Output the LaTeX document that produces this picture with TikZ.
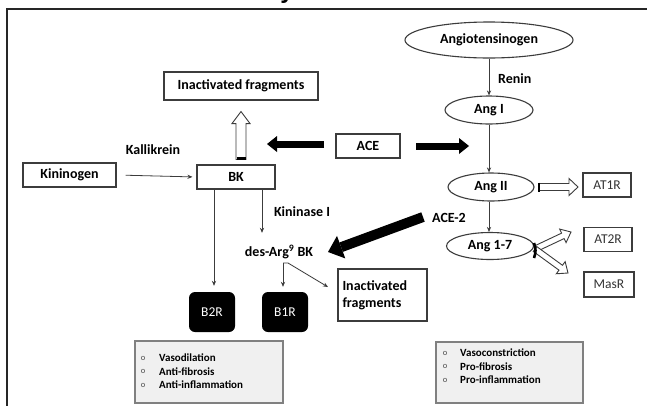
\documentclass[tikz,border=0pt]{standalone}
\usepackage{fontspec}
\setmainfont{Carlito}
\newfontfamily\titlefont{Liberation Sans}
\usetikzlibrary{arrows.meta,shapes.geometric,calc}
\definecolor{edge}{HTML}{3C3C3C}
\definecolor{panel}{HTML}{F0F0F0}
\definecolor{panelline}{HTML}{808080}
\begin{document}
\begin{tikzpicture}[x=1pt,y=-1pt,
  lbl/.style={font=\fontsize{14}{16}\selectfont\bfseries, inner sep=0pt},
  box/.style={draw=edge, line width=1.1pt, fill=white, inner sep=0pt, font=\fontsize{14}{16}\selectfont\bfseries},
  recbox/.style={draw=edge, line width=1.1pt, fill=white, inner sep=0pt, font=\fontsize{13.5}{15}\selectfont, text=black!80},
  oval/.style={ellipse, draw=edge, line width=1.1pt, fill=white, inner sep=0pt, font=\fontsize{14}{16}\selectfont\bfseries},
  rbox/.style={fill=black, rounded corners=6pt, text=white, inner sep=0pt, font=\fontsize{13.5}{15}\selectfont, minimum width=46pt, minimum height=40pt},
  panelbox/.style={draw=panelline, fill=panel, line width=1.2pt, inner sep=0pt},
  bul/.style={font=\fontsize{8.5}{9}\selectfont, text=black!70, inner sep=0pt},
  itm/.style={font=\fontsize{11}{12}\selectfont\bfseries, anchor=west, inner sep=0pt},
  thinarr/.style={draw=edge, line width=0.8pt, -{Stealth[length=5pt,width=4.2pt]}},
  fatarr/.style n args={3}{line width=#1, -{Triangle[length=#2,width=#3,line width=0pt]}},
  openarr/.style n args={3}{fill=white, draw=edge, line width=0.9pt, line join=miter, to path={
     let \p1=(\tikztostart), \p2=(\tikztotarget),
         \n1={atan2(\y2-\y1,\x2-\x1)},
         \n2={veclen(\x2-\x1,\y2-\y1)-#3}
     in ($(\p1)+(\n1+90:#1)$) -- ($(\p1)+(\n1:\n2)+(\n1+90:#1)$)
        -- ($(\p1)+(\n1:\n2)+(\n1+90:#2)$) -- (\p2)
        -- ($(\p1)+(\n1:\n2)+(\n1-90:#2)$) -- ($(\p1)+(\n1:\n2)+(\n1-90:#1)$)
        -- ($(\p1)+(\n1-90:#1)$) -- cycle}},
  bar/.style={line width=2.6pt, draw=black}
]
\useasboundingbox (0,0) rectangle (647,405);
\fill[white] (0,0) rectangle (647,405);
% cut-off title letter and frame
\node[font=\titlefont\fontsize{24}{26}\selectfont\bfseries, anchor=base, inner sep=0pt] (title) at (287,-2) {y};
\draw[line width=2.5pt, draw=black!85] (7,9) rectangle (720,460);

% renin-angiotensin side
\node[oval, minimum width=168pt, minimum height=36pt] (agt) at (489,40) {Angiotensinogen};
\node[oval, minimum width=88pt, minimum height=28pt] (ang1) at (489,110) {Ang I};
\node[oval, minimum width=86pt, minimum height=28pt] (ang2) at (491,187) {Ang II};
\node[oval, minimum width=87pt, minimum height=27pt] (ang17) at (490,246) {Ang 1-7};
\node[lbl, anchor=west] (renin) at (498,79) {Renin};
\node[lbl] (ace2) at (449,218) {ACE-2};

\node[recbox, minimum width=48pt, minimum height=24pt] (at1r) at (607,185) {AT1R};
\node[recbox, minimum width=48pt, minimum height=24pt] (at2r) at (608,239.5) {AT2R};
\node[recbox, minimum width=50pt, minimum height=25pt] (masr) at (609,284.5) {MasR};

% kinin side
\node[box, minimum width=154pt, minimum height=28pt] (inact1) at (241,86) {Inactivated fragments};
\node[box, minimum width=93pt, minimum height=24pt] (kng) at (69.5,175) {Kininogen};
\node[box, minimum width=78pt, minimum height=24pt] (bk) at (236,177) {BK};
\node[box, minimum width=64pt, minimum height=24pt] (ace) at (368,146) {ACE};
\node[lbl] (kal) at (153,150) {Kallikrein};
\node[lbl] (kin1) at (302,212) {Kininase I};
\node[lbl] (desarg) at (279,252) {des-Arg\textsuperscript{9} BK};
\node[box, minimum width=89pt, minimum height=52pt, align=left, text width=80pt, font=\fontsize{14}{17}\selectfont\bfseries] (inact2) at (382.5,295) {Inactivated\\fragments};

\node[rbox] (b2r) at (212,312) {B2R};
\node[rbox] (b1r) at (285,312) {B1R};

% effect panels
\node[panelbox, minimum width=148pt, minimum height=62pt] (panL) at (209,372) {};
\node[panelbox, minimum width=147pt, minimum height=61pt] (panR) at (509.5,372.5) {};
\node[bul] (bl1) at (143,358) {o};
\node[bul] (bl2) at (143,371.5) {o};
\node[bul] (bl3) at (143,385) {o};
\node[itm] (tl1) at (159,358) {Vasodilation};
\node[itm] (tl2) at (159,371.5) {Anti-fibrosis};
\node[itm] (tl3) at (159,385) {Anti-inflammation};
\node[bul] (br1) at (445,353) {o};
\node[bul] (br2) at (445,366.5) {o};
\node[bul] (br3) at (445,380) {o};
\node[itm] (tr1) at (460,353) {Vasoconstriction};
\node[itm] (tr2) at (460,366.5) {Pro-fibrosis};
\node[itm] (tr3) at (460,380) {Pro-inflammation};

% thin connectors
\draw[thinarr] (agt.south) -- (ang1.north);
\draw[thinarr] (ang1.south) -- (ang1.south |- ang2.north);
\draw[thinarr] (ang1.south |- ang2.south) -- (ang1.south |- ang17.north);
\draw[thinarr, shorten <=9pt, shorten >=4pt] (kng.east) -- (bk.west);
\draw[thinarr, shorten >=6pt] ([xshift=2pt]bk.south -| b2r.north) -- ([xshift=2pt]b2r.north);
\draw[thinarr] ([xshift=26pt]bk.south) -- ([xshift=26pt, yshift=12pt]bk.south |- desarg.north);
\coordinate (split) at (283,263);
\draw[thinarr, shorten >=5pt] (split) -- (split |- b1r.north);
\coordinate (inactend) at (328,287);
\draw[thinarr] (split) -- ++(5,0) -- (inactend);

% thick black arrows
\coordinate (aceL) at (324,144);
\coordinate (aceLtip) at (267,144);
\coordinate (aceR) at (416,146);
\coordinate (aceRtip) at (469,146);
\draw[fatarr={7pt}{10pt}{16pt}] (aceL) -- (aceLtip);
\draw[fatarr={7pt}{10pt}{16pt}] (aceR) -- (aceRtip);
\coordinate (ace2s) at (423,217);
\coordinate (ace2t) at (328,252);
\draw[fatarr={10pt}{14pt}{24pt}] (ace2s) -- (ace2t);

% open block arrows
\coordinate (upbase) at ([yshift=5pt]bk.north -| inact1.south);
\coordinate (uptip) at ([yshift=-11pt]inact1.south);
\draw[openarr={5pt}{9pt}{12pt}] (upbase) to (uptip);
\draw[bar] ([xshift=-4.5pt,yshift=1pt]upbase) -- ([xshift=4.5pt,yshift=1pt]upbase);

\coordinate (a2base) at (539,187);
\coordinate (a2tip) at (578,187);
\draw[openarr={3.5pt}{8.5pt}{9pt}] (a2base) to (a2tip);
\draw[bar] ([yshift=4.5pt]a2base) -- ([yshift=-4.5pt]a2base);

\coordinate (a17base) at (535,249);
\coordinate (at2tip) at (571,232);
\coordinate (masrtip) at (568,273);
\draw[openarr={3pt}{7.5pt}{9pt}] (a17base) to (at2tip);
\draw[openarr={3pt}{7.5pt}{9pt}] (a17base) to (masrtip);
\draw[bar] (534,243) to[bend left=20] (534,258);
\end{tikzpicture}
\end{document}
